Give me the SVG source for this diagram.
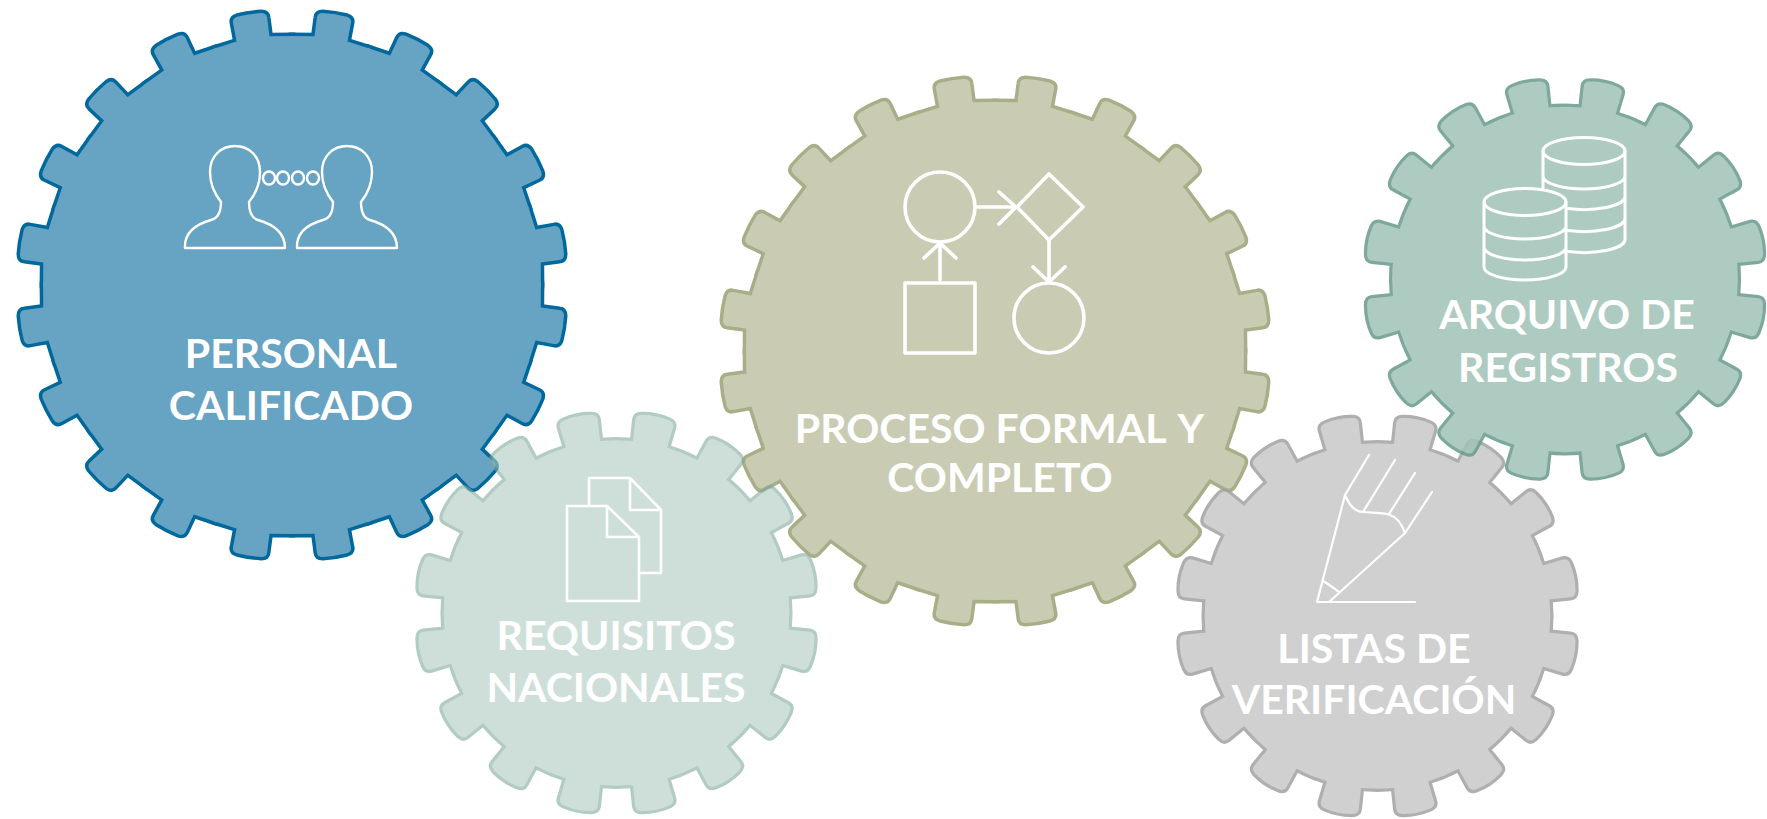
<svg xmlns="http://www.w3.org/2000/svg" width="1767" height="819" viewBox="0 0 1767 819">
<style>
text{font-family:"Lato","Liberation Sans",sans-serif;font-weight:700;fill:#fff;text-anchor:middle;font-size:41px}
.ic{fill:none;stroke:#fff;stroke-linecap:round;stroke-linejoin:round}
.body{stroke:none}
.edge{stroke-linejoin:round}
</style>
<defs>
<path id="t20" d="M0 0L-14.95 -89.77L-6.1 -91.1L-6.3 -98Q-6.4 -99.7 -4.4 -100Q0 -100.4 4.4 -100Q6.4 -99.7 6.3 -98L6.1 -91.1L14.95 -89.77Z"/>
<path id="t16" d="M0 0L-17.41 -83.2L-8.6 -85L-9.6 -96Q-9.8 -98.4 -7 -99Q0 -100.5 7 -99Q9.8 -98.4 9.6 -96L8.6 -85L17.41 -83.2Z"/>
<g id="gear20">
<use href="#t20" transform="rotate(9)"/><use href="#t20" transform="rotate(27)"/><use href="#t20" transform="rotate(45)"/><use href="#t20" transform="rotate(63)"/><use href="#t20" transform="rotate(81)"/><use href="#t20" transform="rotate(99)"/><use href="#t20" transform="rotate(117)"/><use href="#t20" transform="rotate(135)"/><use href="#t20" transform="rotate(153)"/><use href="#t20" transform="rotate(171)"/><use href="#t20" transform="rotate(189)"/><use href="#t20" transform="rotate(207)"/><use href="#t20" transform="rotate(225)"/><use href="#t20" transform="rotate(243)"/><use href="#t20" transform="rotate(261)"/><use href="#t20" transform="rotate(279)"/><use href="#t20" transform="rotate(297)"/><use href="#t20" transform="rotate(315)"/><use href="#t20" transform="rotate(333)"/><use href="#t20" transform="rotate(351)"/>
<circle r="80"/>
</g>
<g id="gear16">
<use href="#t16" transform="rotate(11.25)"/><use href="#t16" transform="rotate(33.75)"/><use href="#t16" transform="rotate(56.25)"/><use href="#t16" transform="rotate(78.75)"/><use href="#t16" transform="rotate(101.25)"/><use href="#t16" transform="rotate(123.75)"/><use href="#t16" transform="rotate(146.25)"/><use href="#t16" transform="rotate(168.75)"/><use href="#t16" transform="rotate(191.25)"/><use href="#t16" transform="rotate(213.75)"/><use href="#t16" transform="rotate(236.25)"/><use href="#t16" transform="rotate(258.75)"/><use href="#t16" transform="rotate(281.25)"/><use href="#t16" transform="rotate(303.75)"/><use href="#t16" transform="rotate(326.25)"/><use href="#t16" transform="rotate(348.75)"/>
<circle r="86"/>
</g>
</defs>
<g id="connectors"/>
<g id="personal-calificado">
<use href="#gear20" class="edge" transform="translate(292 285) scale(2.735)" fill="#00689c" stroke="#00689c" stroke-width="2.55"/>
<use href="#gear20" class="body" transform="translate(292 285) scale(2.735)" fill="#67a3c3"/>
<g class="ic" stroke-width="2.4" transform="translate(-3 0)">
<path id="person" d="M188 248C187 232 200 224 214 220C222 218 224 210 224 202C216 192 213 180 213 172C213 156 224 146 238 146C252 146 263 156 263 172C263 182 260 192 252 202C252 210 254 218 261 220C275 224 288 232 288 248Z"/>
<use href="#person" x="112"/>
<ellipse cx="272" cy="178" rx="6" ry="6.5"/><ellipse cx="286" cy="178" rx="6" ry="6.5"/><ellipse cx="301" cy="178" rx="6" ry="6.5"/><ellipse cx="316" cy="178" rx="6" ry="6.5"/>
</g>
<text x="291" y="368">PERSONAL</text>
<text x="291" y="420">CALIFICADO</text>
</g>
<g id="proceso-formal">
<use href="#gear20" class="edge" transform="translate(995 351) scale(2.735)" fill="#a8ae87" stroke="#a8ae87" stroke-width="2.55"/>
<use href="#gear20" class="body" transform="translate(995 351) scale(2.735)" fill="#c9ccb3"/>
<g class="ic" stroke-width="3.6">
<circle cx="940" cy="207" r="35"/><circle cx="1049" cy="318" r="35"/>
<rect x="905" y="283" width="70" height="70"/>
<path d="M1049 174L1083 207L1049 240L1017 207Z"/>
<path d="M977 207H1016M999 192L1016 207L999 224"/>
<path d="M1049 240V282M1033 267L1049 282L1065 267"/>
<path d="M940 280V243M924 258L940 243L956 258"/>
</g>
<text x="999.5" y="443">PROCESO FORMAL <tspan dx="4">Y</tspan></text>
<text x="1000" y="492">COMPLETO</text>
</g>
<g id="requisitos-nacionales">
<g opacity="0.6">
<use href="#gear16" class="edge" transform="translate(616.5 613) scale(2.01)" fill="#7fa99d" stroke="#7fa99d" stroke-width="3.2"/>
<use href="#gear16" class="body" transform="translate(616.5 613) scale(2.01)" fill="#afcbc3"/>
</g>
<g class="ic" stroke-width="2.6" stroke-linecap="square" stroke-linejoin="miter">
<path d="M589 505V478H630L661 510V573H639M630 478V510H661"/>
<path d="M567 506H607L639 537V601H567ZM607 506V537H639"/>
</g>
<text x="616" y="650">REQUISITOS</text>
<text x="616" y="702">NACIONALES</text>
</g>
<g id="listas-verificacion">
<g opacity="0.85">
<use href="#gear16" class="edge" transform="translate(1377.5 616) scale(2.01)" fill="#a2a2a2" stroke="#a2a2a2" stroke-width="3.2"/>
<use href="#gear16" class="body" transform="translate(1377.5 616) scale(2.01)" fill="#c8c8c8"/>
</g>
<g class="ic" stroke-width="2.2">
<path d="M1369 455L1345 495L1317 602H1415M1329 602L1405 533L1432 492"/>
<path d="M1345 495C1350 507 1357 512 1363 512C1377 513 1387 513 1390 515C1397 517 1402 525 1405 533"/>
<path d="M1363 512L1395 460M1389 514L1415 473M1323 581Q1330 585 1339 592"/>
</g>
<text x="1374" y="663">LISTAS DE</text>
<text x="1374" y="714">VERIFICACIÓN</text>
</g>
<g id="arquivo-registros">
<g opacity="0.85">
<use href="#gear16" class="edge" transform="translate(1565 279.5) scale(2.01)" fill="#689a8c" stroke="#689a8c" stroke-width="3.2"/>
<use href="#gear16" class="body" transform="translate(1565 279.5) scale(2.01)" fill="#a1c2b8"/>
</g>
<g class="ic" stroke-width="3">
<ellipse cx="1584" cy="151" rx="41" ry="13.5"/>
<path d="M1543 151V188M1625 151V240M1543 176A41 13 0 0 0 1625 176M1568 208.5A41 13 0 0 0 1625 197M1568 230.5A41 13 0 0 0 1625 219M1568 251.5A41 13 0 0 0 1625 240"/>
<ellipse cx="1525" cy="202" rx="41" ry="13.5"/>
<path d="M1484 202V267M1566 202V267M1484 226A41 13 0 0 0 1566 226M1484 247A41 13 0 0 0 1566 247M1484 267A41 13 0 0 0 1566 267"/>
</g>
<text x="1567" y="329">ARQUIVO DE</text>
<text x="1568" y="382">REGISTROS</text>
</g>
</svg>
